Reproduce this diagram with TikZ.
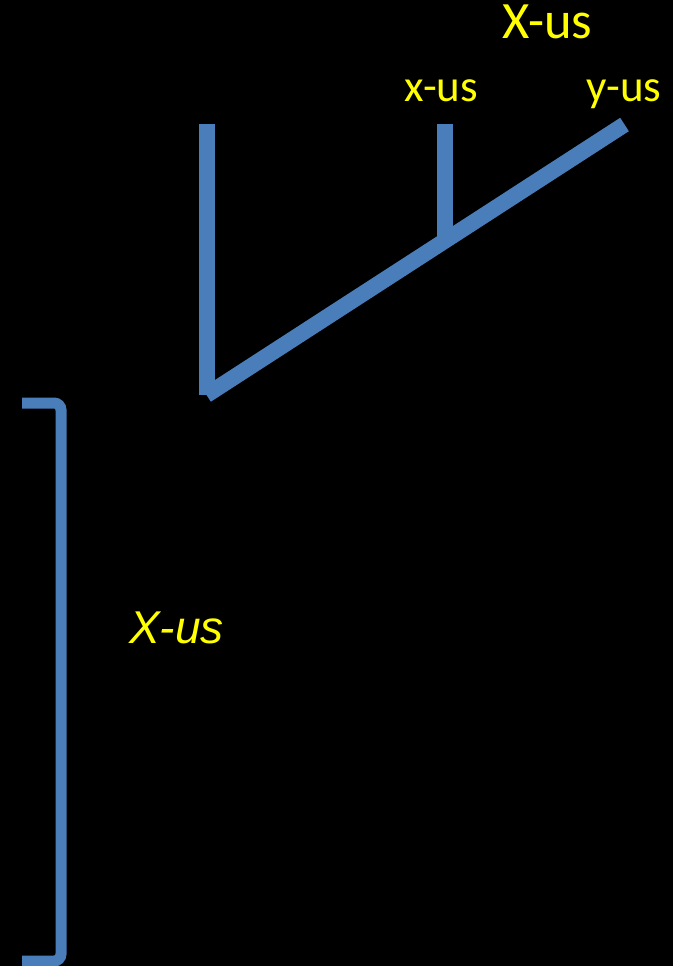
\documentclass[tikz,border=0pt]{standalone}
\usepackage{fontspec}
\setmainfont{Carlito}
\newfontfamily\slantsans{Liberation Sans}
\usetikzlibrary{positioning}
\definecolor{branch}{HTML}{4A7EBB}
\definecolor{tag}{HTML}{FFFF00}

\begin{document}
\begin{tikzpicture}[x=1pt,y=-1pt,
    limb/.style={branch,line width=16pt},
    leaf/.style={tag,anchor=base,inner sep=0pt,font=\fontsize{45}{52}\selectfont}]
  \fill[black] (0,0) rectangle (673,966);
  \useasboundingbox (0,0) rectangle (673,966);
  \coordinate (root) at (206.5,395);
  \coordinate (ltop) at (206.5,124);
  \coordinate (fork) at (444.5,241);
  \coordinate (xtop) at (444.5,124);
  \coordinate (ytop) at (624.5,124.5);
  \draw[limb] (root) -- (ltop);
  \draw[limb] (root) -- (ytop);
  \draw[limb] (fork) -- (xtop);
  \node[leaf] (xlab) at (441.5,101) {x-us};
  \node[leaf] (ylab) at (624,101) {y-us};
  \node[leaf,font=\fontsize{52.5}{60}\selectfont] (Xlab) at (547.5,38) {X-us};
  \coordinate (btop) at (22,403);
  \coordinate (bbot) at (22,961);
  \draw[branch,line width=11pt,rounded corners=7pt] (btop) -- ++(39,0) |- (bbot);
  \node[tag,anchor=base,inner sep=0pt,font=\slantsans\itshape\fontsize{46}{54}\selectfont]
    (Xspan) at (176.5,643) {X-us};
\end{tikzpicture}
\end{document}
